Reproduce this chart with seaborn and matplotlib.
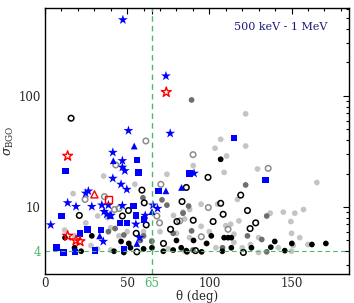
import numpy as np
import pandas as pd
import matplotlib
matplotlib.use("Agg")
import matplotlib.pyplot as plt
import seaborn as sns
from matplotlib.ticker import MultipleLocator, LogLocator, NullFormatter

# blue filled stars
star_th = [47.4, 73.6, 76.2, 50.8, 41.3, 47.1, 47.1, 48.6, 41.3, 46.3, 49.8, 26.4, 24.8,
           13.8, 18.9, 28.5, 34.6, 38.6, 36.0, 37.6, 39.6, 40.2, 47.1, 61.0, 65.7, 68.5,
           3.5, 55.3, 57.5, 35.5, 90.7]
star_sg = [484, 151, 46, 48.7, 31, 26.1, 22.8, 21.2, 18.1, 16.0, 14.4, 13.9, 13.3,
           10.9, 10.1, 10.1, 10.4, 10.4, 9.1, 8.6, 8.4, 8.4, 10.3, 8.4, 10.4, 9.7,
           6.9, 7.0, 5.3, 4.9, 20.1]
# blue filled squares
sq_th = [115.1, 55.9, 12.4, 56.9, 69.1, 88.0, 134.3, 53.8, 10.2, 55.5, 60.4, 45.7, 49.8,
         26.0, 21.3, 34.0, 7.1, 11.4, 18.3, 30.5, 48.2]
sq_sg = [42, 26.5, 21.1, 20.4, 13.9, 20.1, 17.5, 10.2, 8.3, 8.4, 7.7, 7.2, 7.2,
         6.3, 5.8, 6.2, 4.3, 3.9, 3.95, 4.05, 4.2]
# blue filled triangles
tri_th = [54.3, 41.6, 73.6, 65.1, 39.6, 33.3, 55.9, 83.1]
tri_sg = [35.4, 26.1, 14.0, 9.1, 8.4, 5.5, 4.7, 15.0]
# red open symbols
rstar_th = [73.8, 13.8, 13.8, 18.9, 21.3]
rstar_sg = [108, 28.8, 5.5, 5.0, 4.9]
rtri_th, rtri_sg = [30.1], [13.0]
rsq_th, rsq_sg = [38.4], [11.6]
# black open circles
boc_th = [15.9, 99.2, 86.0, 59.0, 119.1, 83.4, 106.9, 60.4, 123.2, 50.8, 108.4, 47.1, 20.9,
          90.2, 102.3, 128.2, 61.6, 80.3, 124.8, 76.4, 55.5, 72.1, 55.9, 91.6, 120.7]
boc_sg = [63, 18.5, 15.0, 14.2, 12.8, 11.2, 10.8, 10.9, 9.3, 9.3, 8.6, 8.3, 8.4,
          7.6, 7.4, 7.2, 6.9, 7.4, 6.4, 6.3, 5.8, 4.7, 3.95, 4.05, 3.9]
# gray open circles
goc_th = [61.4, 43.1, 90.1, 135.8, 70.5, 24.4, 36.2, 45.1, 42.3, 68.1, 99.4, 69.7, 111.4,
          95.1, 82.0]
goc_sg = [39.3, 23.9, 29.6, 22.3, 16.0, 11.7, 12.4, 9.7, 9.5, 8.3, 9.9, 7.2, 6.3,
          5.4, 7.5]
# light gray filled circles
lg_th = [122.1, 106.9, 122.1, 103.5, 110.5, 129.3, 90.2, 109.0, 165.4, 35.7, 54.7, 17.1,
         74.2, 117.1, 32.1, 24.8, 78.2, 157.3, 152.0, 149.6, 84, 95, 88, 85, 105, 145,
         137, 113, 118, 110, 115, 130, 155, 150, 95, 100, 40, 45, 50, 28, 32, 65, 70,
         80, 88, 115, 120, 125, 160, 151, 142, 104, 98, 12, 18, 40, 75, 85, 150, 130,
         38, 60]
lg_sg = [69, 40.7, 35.4, 33.8, 28.8, 22.0, 23.6, 20.5, 16.6, 19.0, 16.0, 13.2,
         19.7, 11.7, 8.3, 7.2, 8.4, 9.5, 8.8, 7.4, 9.0, 10.6, 9.5, 7.8, 10.6, 9.0,
         8.8, 7.0, 7.5, 6.8, 5.7, 5.3, 5.3, 5.8, 6.7, 6.0, 6.5, 5.5, 6.0, 4.5, 4.2, 5.0, 6.0,
         5.8, 5.3, 4.8, 4.3, 4.6, 4.6, 4.5, 4.3, 4.3, 4.7, 6.2, 5.5, 4.1, 4.2, 4.0, 4.0, 3.9,
         8.0, 6.0]
# dark gray filled circles
dg_th = [89.2, 122.1, 59.6, 71.2, 74.2, 87.4, 42.7, 38.6, 89.2, 123.2, 131.9, 134.9,
         134.9, 60, 65, 48, 58, 90, 108, 84, 78]
dg_sg = [92, 15.8, 12.1, 11.6, 10.4, 10.2, 6.4, 6.0, 6.1, 5.5, 5.1, 8.3,
         3.95, 5.5, 4.9, 5.6, 5.0, 4.1, 4.3, 8.8, 5.8]
# black filled circles
bk_th = [106.9, 12.2, 28.5, 46.3, 51, 90.4, 98.4, 101.2, 109.0, 111.4, 113.4, 139.8,
         150.2, 162.4, 170.9, 82.9, 86.0, 95.3, 107.9, 113.4, 125.6, 137.4, 145.9, 65.1,
         72, 78, 86.4, 18, 22, 60, 52, 48, 42, 80]
bk_sg = [26.9, 5.3, 5.5, 4.9, 4.7, 5.0, 4.7, 5.5, 5.3, 5.3, 5.3, 4.9,
         4.7, 4.6, 4.7, 4.3, 4.05, 3.95, 4.0, 4.3, 4.3, 4.35, 4.05, 4.3,
         4.0, 4.1, 3.95, 4.3, 4.0, 4.2, 4.3, 3.9, 4.0, 5.0]

green = "#4db86a"
sns.set_style("white")
plt.rcParams["font.family"] = ["DejaVu Serif"]
plt.rcParams["mathtext.fontset"] = "dejavuserif"

fig = plt.figure(figsize=(3.54, 3.03), dpi=100)
ax = fig.add_axes([0.127, 0.096, 0.859, 0.878])

# background groups first
sns.scatterplot(x=lg_th, y=lg_sg, ax=ax, marker="o", s=17, color="#c4c4c4", edgecolor="none")
sns.scatterplot(x=dg_th, y=dg_sg, ax=ax, marker="o", s=17, color="#6e6e6e", edgecolor="none")
sns.scatterplot(x=bk_th, y=bk_sg, ax=ax, marker="o", s=17, color="black", edgecolor="none")
sns.scatterplot(x=goc_th, y=goc_sg, ax=ax, marker="o", s=16, facecolor="none",
                edgecolor="#8c8c8c", linewidth=1.1)
sns.scatterplot(x=boc_th, y=boc_sg, ax=ax, marker="o", s=16, facecolor="none",
                edgecolor="black", linewidth=1.1)
sns.scatterplot(x=sq_th, y=sq_sg, ax=ax, marker="s", s=22, color="#0000ff", edgecolor="none")
sns.scatterplot(x=tri_th, y=tri_sg, ax=ax, marker="^", s=24, color="#0000ff", edgecolor="none")
sns.scatterplot(x=star_th, y=star_sg, ax=ax, marker="*", s=55, color="#0000ff", edgecolor="none")
sns.scatterplot(x=rstar_th, y=rstar_sg, ax=ax, marker="*", s=55, facecolor="none",
                edgecolor="red", linewidth=1.0)
sns.scatterplot(x=rtri_th, y=rtri_sg, ax=ax, marker="^", s=26, facecolor="none",
                edgecolor="red", linewidth=1.0)
sns.scatterplot(x=rsq_th, y=rsq_sg, ax=ax, marker="s", s=26, facecolor="none",
                edgecolor="red", linewidth=1.0)

ax.axvline(65, color=green, ls=(0, (4, 3)), lw=1)
ax.axhline(4, color=green, ls=(0, (4, 3)), lw=0.8)

ax.set_yscale("log")
ax.set_xlim(0, 185)
ax.set_ylim(2.5, 620)

ax.xaxis.set_minor_locator(MultipleLocator(10))
ax.set_xticks([0, 50, 65, 100, 150])
ax.set_xticklabels(["0", "50", "65", "100", "150"])
ax.get_xticklabels()[2].set_color(green)

ax.set_yticks([4, 10, 100])
ax.set_yticklabels(["4", "10", "100"])
ax.get_yticklabels()[0].set_color(green)
ax.yaxis.set_minor_locator(LogLocator(base=10, subs=np.arange(2, 10)))
ax.yaxis.set_minor_formatter(NullFormatter())

ax.tick_params(which="both", direction="in", top=True, right=True, labelsize=8.5,
               color="black", width=0.8)
ax.tick_params(which="major", length=4)
ax.tick_params(axis="x", which="major", pad=2)
ax.tick_params(axis="y", which="major", pad=3)
ax.tick_params(which="minor", length=2.5)
for sp in ax.spines.values():
    sp.set_color("black")
    sp.set_linewidth(1)

ax.set_xlabel("θ (deg)", fontsize=8.5, labelpad=0)
ax.set_ylabel(r"$\sigma_{\mathrm{BGO}}$", fontsize=9, labelpad=2)
ax.text(0.93, 0.93, "500 keV - 1 MeV", transform=ax.transAxes, ha="right", va="center",
        fontsize=8, color="#1c1c78")

fig.savefig("out.png", dpi=100)
